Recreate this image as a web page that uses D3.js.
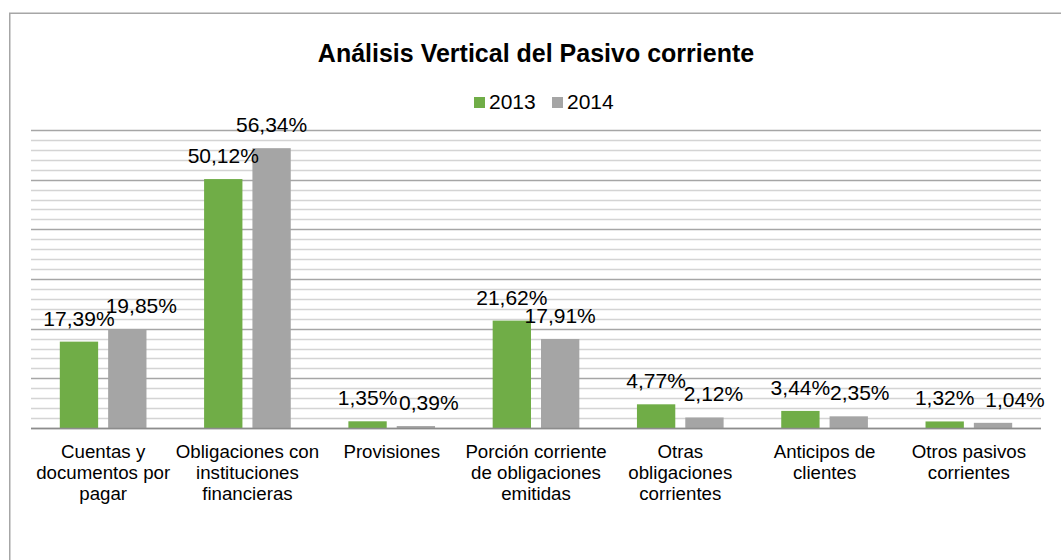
<!DOCTYPE html>
<html>
<head>
<meta charset="utf-8">
<script src="https://cdn.jsdelivr.net/npm/d3@7"></script>
<style>
  html, body { margin: 0; padding: 0; background: #fff; }
  svg { display: block; font-family: "Liberation Sans", Arial, sans-serif; }
</style>
</head>
<body>
<svg id="chart" width="1061" height="560"></svg>
<script>
// Category names, one entry per wrapped line
const categories = [
  ["Cuentas y", "documentos por", "pagar"],
  ["Obligaciones con", "instituciones", "financieras"],
  ["Provisiones"],
  ["Porción corriente", "de obligaciones", "emitidas"],
  ["Otras", "obligaciones", "corrientes"],
  ["Anticipos de", "clientes"],
  ["Otros pasivos", "corrientes"]
];
const series = ["2013", "2014"];
const values2013 = [17.39, 50.12, 1.35, 21.62, 4.77, 3.44, 1.32];
const values2014 = [19.85, 56.34, 0.39, 17.91, 2.12, 2.35, 1.04];
const yMax = 60;
const majorStep = 10;
const minorStep = 2;

const colors = { "2013": "#70ad47", "2014": "#a5a5a5" };
const fmt = v => v.toFixed(2).replace(".", ",") + "%";

// 2014 labels that sit to the right of their bars to keep clear of neighbours
const labelShift2014 = [14, 0, 13, 0, 9, 11, 22];

const svg = d3.select("#chart");
const W = 1061, H = 560;
const plot = { left: 31, right: 1041, top: 130, bottom: 428 };

// Outer frame (runs past the right and bottom edges)
svg.append("rect")
  .attr("x", 9.75).attr("y", 13.25)
  .attr("width", W + 20).attr("height", H + 20)
  .attr("fill", "#fff").attr("stroke", "#a6a6a6").attr("stroke-width", 1.5);

const ids = categories.map((c, i) => i);
const x0 = d3.scaleBand().domain(ids).range([plot.left, plot.right]).paddingInner(0).paddingOuter(0);
const x1 = d3.scaleBand().domain(series).range([0, x0.bandwidth()]).paddingInner(0.207).paddingOuter(0.596);
const y = d3.scaleLinear().domain([0, yMax]).range([plot.bottom, plot.top]);

// Grid lines: light minor lines, darker major lines
const minorTicks = d3.range(0, yMax + 0.001, minorStep).filter(v => v % majorStep !== 0);
const majorTicks = d3.range(0, yMax + 0.001, majorStep);
svg.append("g").selectAll("line").data(minorTicks).join("line")
  .attr("x1", plot.left).attr("x2", plot.right)
  .attr("y1", d => Math.round(y(d)) + 0.5).attr("y2", d => Math.round(y(d)) + 0.5)
  .attr("stroke", "#d4d4d4").attr("stroke-width", 1.3);
svg.append("g").selectAll("line").data(majorTicks).join("line")
  .attr("x1", plot.left).attr("x2", plot.right)
  .attr("y1", d => Math.round(y(d)) + 0.5).attr("y2", d => Math.round(y(d)) + 0.5)
  .attr("stroke", "#a6a6a6").attr("stroke-width", 1.3);

// Bars
const rows = ids.map(i => ({ i, vals: [
  { s: "2013", v: values2013[i], shift: 0 },
  { s: "2014", v: values2014[i], shift: labelShift2014[i] }
]}));

const groups = svg.append("g").selectAll("g").data(rows).join("g")
  .attr("transform", d => `translate(${x0(d.i)},0)`);

groups.selectAll("rect").data(d => d.vals).join("rect")
  .attr("x", d => x1(d.s))
  .attr("width", x1.bandwidth())
  .attr("y", d => y(d.v))
  .attr("height", d => y(0) - y(d.v))
  .attr("fill", d => colors[d.s]);

// Axis baseline
svg.append("line")
  .attr("x1", plot.left).attr("x2", plot.right)
  .attr("y1", Math.round(y(0)) + 0.5).attr("y2", Math.round(y(0)) + 0.5)
  .attr("stroke", "#8c8c8c").attr("stroke-width", 1.3);

// Value labels
groups.selectAll("text").data(d => d.vals).join("text")
  .attr("x", d => x1(d.s) + x1.bandwidth() / 2 + d.shift)
  .attr("y", d => y(d.v) - 16)
  .attr("text-anchor", "middle")
  .attr("font-size", 21)
  .attr("fill", "#000")
  .text(d => fmt(d.v));

// Category labels
const catG = svg.append("g").selectAll("text").data(rows).join("text")
  .attr("text-anchor", "middle")
  .attr("font-size", 18.7)
  .attr("fill", "#000")
  .attr("transform", d => `translate(${x0(d.i) + x0.bandwidth() / 2},458)`);
catG.selectAll("tspan").data(d => categories[d.i]).join("tspan")
  .attr("x", 0)
  .attr("y", (d, k) => k * 21)
  .text(d => d);

// Title
svg.append("text")
  .attr("x", 536).attr("y", 61.5)
  .attr("text-anchor", "middle")
  .attr("font-size", 25).attr("font-weight", "bold")
  .attr("fill", "#000")
  .text("Análisis Vertical del Pasivo corriente");

// Legend
const legend = svg.append("g");
const legendItems = [
  { s: "2013", x: 474 },
  { s: "2014", x: 552 }
];
legend.selectAll("rect").data(legendItems).join("rect")
  .attr("x", d => d.x).attr("y", 97).attr("width", 11).attr("height", 11)
  .attr("fill", d => colors[d.s]);
legend.selectAll("text").data(legendItems).join("text")
  .attr("x", d => d.x + 15).attr("y", 109)
  .attr("font-size", 21).attr("fill", "#000")
  .text(d => d.s);
</script>
</body>
</html>
